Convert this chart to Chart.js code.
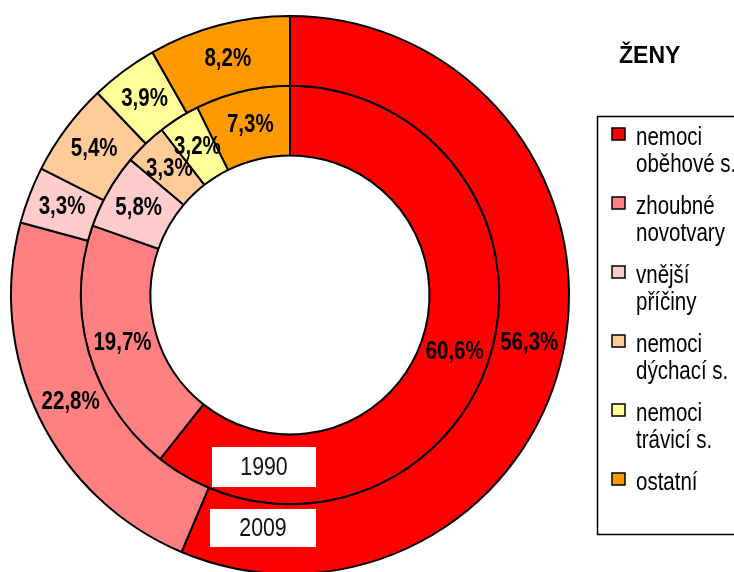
<!DOCTYPE html>
<html>
<head>
<meta charset="utf-8">
<script src="https://cdn.jsdelivr.net/npm/chart.js@4"></script>
<style>
  html, body { margin: 0; padding: 0; background: #fff; overflow: hidden; }
  canvas { display: block; }
</style>
</head>
<body>
<canvas id="pieChart" width="734" height="590"></canvas>
<script>
// data
var categories = [
    ['nemoci', 'oběhové s.'],
    ['zhoubné', 'novotvary'],
    ['vnější', 'příčiny'],
    ['nemoci', 'dýchací s.'],
    ['nemoci', 'trávicí s.'],
    ['ostatní']
];
var colors = ['#ff0000', '#ff8080', '#ffcccc', '#ffcc99', '#ffff99', '#ff9900'];
var years = ['2009', '1990'];
var values2009 = [56.3, 22.8, 3.3, 5.4, 3.9, 8.2];
var values1990 = [60.6, 19.7, 5.8, 3.3, 3.2, 7.3];
var title = 'ŽENY';

var FONT = '"Liberation Sans", Arial, sans-serif';

function fmt(v) {
    return v.toFixed(1).replace('.', ',') + '%';
}

// no Arial Narrow here, so squeeze Liberation Sans horizontally
function narrowText(ctx, text, x, y) {
    ctx.save();
    ctx.translate(x, y);
    ctx.scale(0.82, 1);
    ctx.fillText(text, 0, 0);
    ctx.restore();
}

// percent labels on the slices
var sliceLabels = {
    id: 'sliceLabels',
    afterDatasetsDraw: function (chart) {
        var ctx = chart.ctx;
        ctx.save();
        ctx.font = 'bold 25px ' + FONT;
        ctx.fillStyle = '#000';
        ctx.textAlign = 'center';
        ctx.textBaseline = 'middle';
        chart.data.datasets.forEach(function (ds, i) {
            chart.getDatasetMeta(i).data.forEach(function (arc, j) {
                var p = arc.tooltipPosition();
                narrowText(ctx, fmt(ds.data[j]), p.x, p.y);
            });
        });
        ctx.restore();
    }
};

// year boxes, title and legend box
var extras = {
    id: 'extras',
    afterDraw: function (chart) {
        var ctx = chart.ctx;
        var ca = chart.chartArea;
        var cx = (ca.left + ca.right) / 2;
        var cy = (ca.top + ca.bottom) / 2;
        ctx.save();

        // year boxes at the bottom of each ring
        var yearBoxes = [
            { x: cx - 80, y: cy + 214, w: 106, h: 38 },
            { x: cx - 78, y: cy + 152, w: 104, h: 40 }
        ];
        ctx.font = '26px ' + FONT;
        ctx.textAlign = 'center';
        ctx.textBaseline = 'middle';
        yearBoxes.forEach(function (b, i) {
            ctx.fillStyle = '#fff';
            ctx.fillRect(b.x, b.y, b.w, b.h);
            ctx.fillStyle = '#111';
            narrowText(ctx, years[i], b.x + b.w / 2, b.y + b.h / 2 + 1);
        });

        // title
        ctx.font = 'bold 23px ' + FONT;
        ctx.textAlign = 'left';
        ctx.fillStyle = '#000';
        ctx.fillText(title, 619, 57);

        // legend
        ctx.lineWidth = 1.5;
        ctx.strokeStyle = '#000';
        ctx.strokeRect(597.5, 116.5, 200, 418);
        ctx.font = '25px ' + FONT;
        ctx.textBaseline = 'alphabetic';
        categories.forEach(function (lines, i) {
            var base = 145 + i * 69;
            ctx.fillStyle = colors[i];
            ctx.fillRect(612, base - 17, 13, 12);
            ctx.strokeRect(612, base - 17, 13, 12);
            ctx.fillStyle = '#000';
            lines.forEach(function (t, k) {
                narrowText(ctx, t, 636, base + k * 27);
            });
        });
        ctx.restore();
    }
};

var ctx = document.getElementById('pieChart').getContext('2d');
var myChart = new Chart(ctx, {
    type: 'doughnut',
    data: {
        labels: categories.map(function (l) { return l.join(' '); }),
        datasets: [{
            label: years[0],
            data: values2009,
            backgroundColor: colors,
            borderColor: '#000',
            borderWidth: 2
        }, {
            label: years[1],
            data: values1990,
            backgroundColor: colors,
            borderColor: '#000',
            borderWidth: 2
        }]
    },
    options: {
        responsive: false,
        animation: false,
        cutout: '50%',
        layout: {
            padding: { left: 10, top: 15, right: 164, bottom: 15 }
        },
        plugins: {
            legend: { display: false },
            tooltip: { enabled: false }
        }
    },
    plugins: [sliceLabels, extras]
});
</script>
</body>
</html>
